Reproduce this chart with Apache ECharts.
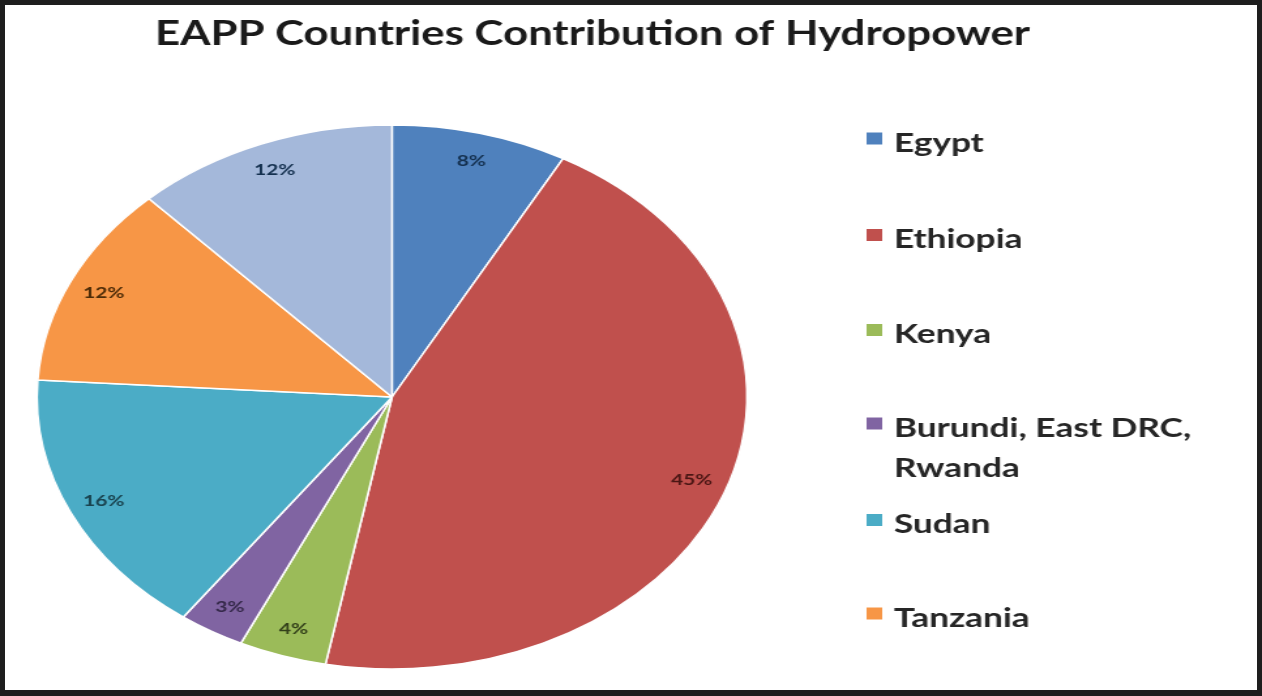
<!DOCTYPE html>
<html><head><meta charset="utf-8">
<script src="https://cdn.jsdelivr.net/npm/echarts@6/dist/echarts.min.js"></script>
<style>
html,body{margin:0;padding:0;background:#fff;overflow:hidden}
#frame{position:absolute;left:0;top:0;width:1262px;height:696px;box-sizing:border-box;border:5px solid #1e1e1e;border-bottom-width:6px;background:#fff;overflow:hidden}
#chart{position:absolute;left:-5px;top:-5px;width:967px;height:696px;transform:scaleX(1.305);transform-origin:0 0}
</style></head><body>
<div id="frame"><div id="chart"></div></div>
<script>
const chartTitle = 'EAPP Countries Contribution of Hydropower';
const countries = ['Egypt', 'Ethiopia', 'Kenya', 'Burundi, East DRC, Rwanda', 'Sudan', 'Tanzania', 'Uganda'];
const shares = [8, 45, 4, 3, 16, 12, 12];
const legendNames = ['Egypt', 'Ethiopia', 'Kenya', 'Burundi, East DRC, Rwanda', 'Sudan', 'Tanzania'];

const palette = ['#4F81BD', '#C0504D', '#9BBB59', '#8064A2', '#4BACC6', '#F79646', '#A4B8DA'];
const labelInk = ['#14304F', '#4A1614', '#33401A', '#35294A', '#1A4450', '#4E2C08', '#14304F'];

const chart = echarts.init(document.getElementById('chart'), null, {renderer: 'canvas'});
const pieData = countries.map((n, i) => ({name: n, value: shares[i]}));

// square tops minus the text-box overhang
const legendTops = [131.5, 228, 323, 416.5, 513, 606.5].map(t => t - 8.5);
const legends = legendNames.map((n, i) => {
  const multi = n.indexOf('DRC, ') >= 0;
  const h = multi ? 63 : 23;
  return {
    data: [n],
    orient: 'vertical',
    left: 662,
    top: legendTops[i],
    padding: 0,
    itemWidth: 14,
    itemHeight: h,
    icon: 'path://M0,0H14V14H0Z M0,' + h + 'H0.01V' + (h + 0.01) + 'H0Z',
    selectedMode: false,
    formatter: s => s.replace('DRC, ', 'DRC,\n'),
    textStyle: {
      fontFamily: 'Lato', fontWeight: 'bold', fontSize: 27, color: '#262626',
      lineHeight: 40, padding: [0, 0, 0, 3]
    }
  };
});

chart.setOption({
  animation: false,
  backgroundColor: '#fff',
  color: palette,
  title: {
    text: chartTitle,
    left: 454, top: 34, padding: 0,
    textAlign: 'center', textVerticalAlign: 'middle',
    textStyle: {fontFamily: 'Lato', fontWeight: 'bold', fontSize: 33.5, color: '#1a1a1a'}
  },
  legend: legends,
  series: [
    {
      type: 'pie',
      center: [300.4, 397],
      radius: [0, 272],
      startAngle: 90,
      clockwise: true,
      label: {show: false},
      labelLine: {show: false},
      itemStyle: {borderColor: '#ffffff', borderWidth: 1.5},
      emphasis: {disabled: true},
      data: pieData
    },
    {
      type: 'pie',
      center: [300.4, 397],
      radius: [210, 272],
      startAngle: 90,
      clockwise: true,
      silent: true,
      itemStyle: {color: 'rgba(0,0,0,0)', borderWidth: 0},
      labelLine: {show: false},
      label: {
        show: true, position: 'inside',
        formatter: p => p.value + '%',
        fontFamily: 'Lato', fontWeight: 'bold', fontSize: 16
      },
      emphasis: {disabled: true},
      data: pieData.map((d, i) => ({name: d.name, value: d.value, label: {color: labelInk[i]}}))
    }
  ]
});
</script>
</body></html>
